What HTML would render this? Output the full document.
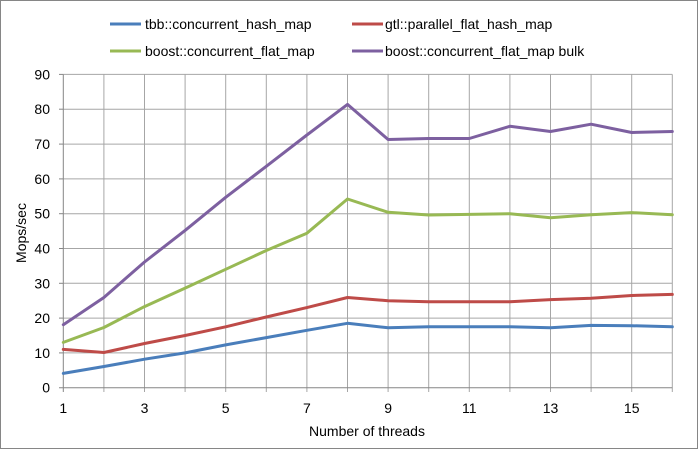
<!DOCTYPE html>
<html><head><meta charset="utf-8"><style>
html,body{margin:0;padding:0;background:#fff;}
svg{display:block;font-family:"Liberation Sans",sans-serif;}
</style></head><body>
<svg width="698" height="449" viewBox="0 0 698 449" xmlns="http://www.w3.org/2000/svg">
<rect x="0.5" y="0.5" width="697" height="448" fill="#fff" stroke="#868686"/>
<g stroke="#a6a6a6" stroke-width="1" fill="none">
<line x1="63.3" y1="352.9" x2="672.3" y2="352.9"/>
<line x1="63.3" y1="318.1" x2="672.3" y2="318.1"/>
<line x1="63.3" y1="283.3" x2="672.3" y2="283.3"/>
<line x1="63.3" y1="248.5" x2="672.3" y2="248.5"/>
<line x1="63.3" y1="213.7" x2="672.3" y2="213.7"/>
<line x1="63.3" y1="178.9" x2="672.3" y2="178.9"/>
<line x1="63.3" y1="144.1" x2="672.3" y2="144.1"/>
<line x1="63.3" y1="109.2" x2="672.3" y2="109.2"/>
<line x1="63.3" y1="74.4" x2="672.3" y2="74.4"/>
<line x1="103.9" y1="74.4" x2="103.9" y2="392"/>
<line x1="144.5" y1="74.4" x2="144.5" y2="392"/>
<line x1="185.1" y1="74.4" x2="185.1" y2="392"/>
<line x1="225.7" y1="74.4" x2="225.7" y2="392"/>
<line x1="266.3" y1="74.4" x2="266.3" y2="392"/>
<line x1="306.9" y1="74.4" x2="306.9" y2="392"/>
<line x1="347.5" y1="74.4" x2="347.5" y2="392"/>
<line x1="388.1" y1="74.4" x2="388.1" y2="392"/>
<line x1="428.7" y1="74.4" x2="428.7" y2="392"/>
<line x1="469.3" y1="74.4" x2="469.3" y2="392"/>
<line x1="509.9" y1="74.4" x2="509.9" y2="392"/>
<line x1="550.5" y1="74.4" x2="550.5" y2="392"/>
<line x1="591.1" y1="74.4" x2="591.1" y2="392"/>
<line x1="631.7" y1="74.4" x2="631.7" y2="392"/>
<line x1="672.3" y1="74.4" x2="672.3" y2="392"/>
</g>
<g stroke="#868686" stroke-width="1" fill="none">
<line x1="63.3" y1="74.4" x2="63.3" y2="392"/>
<line x1="59" y1="387.7" x2="672.3" y2="387.7"/>
<line x1="59" y1="352.9" x2="63.3" y2="352.9"/>
<line x1="59" y1="318.1" x2="63.3" y2="318.1"/>
<line x1="59" y1="283.3" x2="63.3" y2="283.3"/>
<line x1="59" y1="248.5" x2="63.3" y2="248.5"/>
<line x1="59" y1="213.7" x2="63.3" y2="213.7"/>
<line x1="59" y1="178.9" x2="63.3" y2="178.9"/>
<line x1="59" y1="144.1" x2="63.3" y2="144.1"/>
<line x1="59" y1="109.2" x2="63.3" y2="109.2"/>
<line x1="59" y1="74.4" x2="63.3" y2="74.4"/>
</g>
<g font-size="14" fill="#000" text-anchor="end">
<text x="50" y="392.7">0</text>
<text x="50" y="357.9">10</text>
<text x="50" y="323.1">20</text>
<text x="50" y="288.3">30</text>
<text x="50" y="253.5">40</text>
<text x="50" y="218.7">50</text>
<text x="50" y="183.9">60</text>
<text x="50" y="149.1">70</text>
<text x="50" y="114.2">80</text>
<text x="50" y="79.4">90</text>
</g>
<g font-size="14" fill="#000" text-anchor="middle">
<text x="63.3" y="413">1</text>
<text x="144.5" y="413">3</text>
<text x="225.7" y="413">5</text>
<text x="306.9" y="413">7</text>
<text x="388.1" y="413">9</text>
<text x="469.3" y="413">11</text>
<text x="550.5" y="413">13</text>
<text x="631.7" y="413">15</text>
<text x="367" y="436">Number of threads</text>
<text x="0" y="0" transform="translate(26,233) rotate(-90)">Mops/sec</text>
</g>
<g fill="none" stroke-width="3" stroke-linejoin="round" stroke-linecap="round">
<polyline stroke="#4a7ebb" points="63.3,373.4 103.9,366.5 144.5,359.2 185.1,352.9 225.7,344.9 266.3,337.6 306.9,330.3 347.5,323.3 388.1,327.8 428.7,326.8 469.3,326.8 509.9,326.8 550.5,327.8 591.1,325.4 631.7,325.7 672.3,326.8"/>
<polyline stroke="#be4b48" points="63.3,349.4 103.9,352.5 144.5,343.5 185.1,335.5 225.7,326.8 266.3,317.0 306.9,307.6 347.5,297.5 388.1,300.7 428.7,301.7 469.3,301.7 509.9,301.7 550.5,299.6 591.1,298.2 631.7,295.5 672.3,294.4"/>
<polyline stroke="#98b954" points="63.3,342.4 103.9,327.5 144.5,306.6 185.1,288.1 225.7,269.3 266.3,250.5 306.9,233.2 347.5,199.0 388.1,212.3 428.7,215.0 469.3,214.4 509.9,213.7 550.5,217.8 591.1,214.7 631.7,212.6 672.3,214.7"/>
<polyline stroke="#7d60a0" points="63.3,324.7 103.9,297.5 144.5,262.0 185.1,230.4 225.7,197.3 266.3,166.3 306.9,135.0 347.5,104.4 388.1,139.5 428.7,138.5 469.3,138.5 509.9,126.3 550.5,131.5 591.1,124.2 631.7,132.5 672.3,131.5"/>
</g>
<g stroke-width="3">
<line x1="110" y1="24" x2="141" y2="24" stroke="#4a7ebb"/>
<line x1="352" y1="24" x2="383" y2="24" stroke="#be4b48"/>
<line x1="110" y1="51" x2="141" y2="51" stroke="#98b954"/>
<line x1="352" y1="51" x2="383" y2="51" stroke="#7d60a0"/>
</g>
<g font-size="14" fill="#000">
<text x="145" y="29">tbb::concurrent_hash_map</text>
<text x="385" y="29">gtl::parallel_flat_hash_map</text>
<text x="145" y="56">boost::concurrent_flat_map</text>
<text x="385" y="56">boost::concurrent_flat_map bulk</text>
</g>
</svg>
</body></html>
